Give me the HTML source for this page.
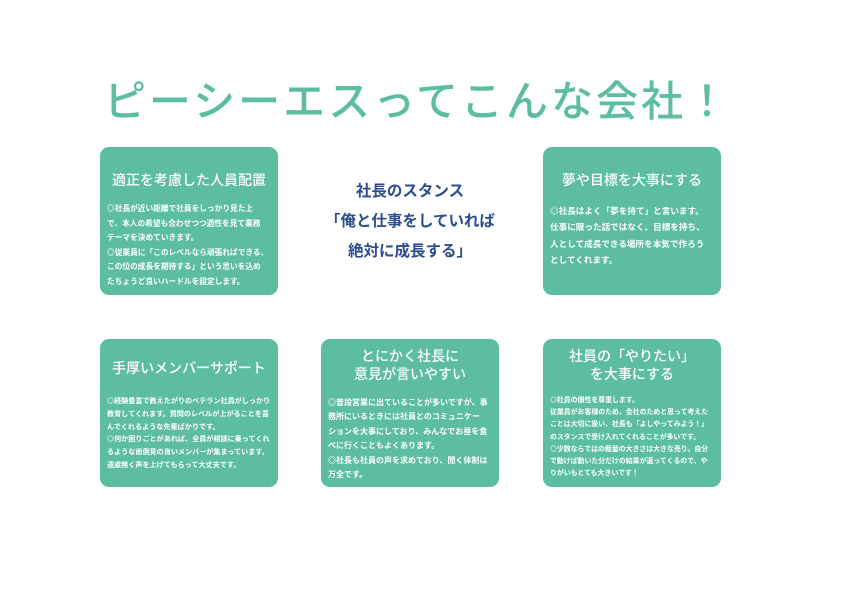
<!DOCTYPE html>
<html><head><meta charset="utf-8"><style>
body{margin:0;width:842px;height:595px;background:#fff;position:relative;overflow:hidden;font-family:"Liberation Sans","Noto Sans CJK JP",sans-serif}
.h{position:absolute;left:104px;top:68px;font-size:42px;color:#5dbda3;letter-spacing:3px;white-space:nowrap;font-weight:500}
.b{position:absolute;width:178px;height:148px;background:#5dbda1;border-radius:9px;color:#fff}
.t{position:absolute;left:0;width:100%;text-align:center;font-size:14px;line-height:18px;font-weight:500}
.p{position:absolute;left:7px;right:2px;font-weight:bold;white-space:nowrap}
.c{position:absolute;left:300px;width:220px;text-align:center;color:#2d4d91;font-size:15.5px;font-weight:bold}
</style></head><body>
<div class="h">ピーシーエスってこんな会社！</div>

<div class="b" style="left:100px;top:147px">
<div class="t" style="top:24px">適正を考慮した人員配置</div>
<div class="p" style="top:55px;line-height:14.6px;font-size:7.7px">◎社長が近い距離で社員をしっかり見た上<br>で、本人の希望も合わせつつ適性を見て業務<br>テーマを決めていきます。<br>◎従業員に「このレベルなら頑張ればできる、<br>この位の成長を期待する」という思いを込め<br>たちょうど良いハードルを設定します。</div>
</div>

<div class="c" style="top:177px;line-height:30px">社長のスタンス<br>「俺と仕事をしていれば<br>絶対に成長する」</div>

<div class="b" style="left:543px;top:147px">
<div class="t" style="top:24px">夢や目標を大事にする</div>
<div class="p" style="top:56px;line-height:16.3px;font-size:8.6px">◎社長はよく「夢を持て」と言います。<br>仕事に限った話ではなく、目標を持ち、<br>人として成長できる場所を本気で作ろう<br>としてくれます。</div>
</div>

<div class="b" style="left:100px;top:339px">
<div class="t" style="top:20px">手厚いメンバーサポート</div>
<div class="p" style="top:56px;line-height:12.8px;font-size:7.1px">◎経験豊富で教えたがりのベテラン社員がしっかり<br>教育してくれます。質問のレベルが上がることを喜<br>んでくれるような先輩ばかりです。<br>◎何か困りごとがあれば、全員が相談に乗ってくれ<br>るような面倒見の良いメンバーが集まっています。<br>遠慮無く声を上げてもらって大丈夫です。</div>
</div>

<div class="b" style="left:321px;top:339px">
<div class="t" style="top:8px">とにかく社長に<br>意見が言いやすい</div>
<div class="p" style="top:57px;line-height:14.4px;font-size:8px">◎普段営業に出ていることが多いですが、事<br>務所にいるときには社員とのコミュニケー<br>ションを大事にしており、みんなでお昼を食<br>べに行くこともよくあります。<br>◎社長も社員の声を求めており、聞く体制は<br>万全です。</div>
</div>

<div class="b" style="left:543px;top:339px">
<div class="t" style="top:8px">社員の「やりたい」<br>を大事にする</div>
<div class="p" style="top:56px;line-height:12.2px;font-size:6.9px">◎社員の個性を尊重します。<br>従業員がお客様のため、会社のためと思って考えた<br>ことは大切に扱い、社長も「よしやってみよう！」<br>のスタンスで受け入れてくれることが多いです。<br>◎少数ならではの裁量の大きさは大きな売り。自分<br>で動けば動いた分だけの結果が返ってくるので、や<br>りがいもとても大きいです！</div>
</div>
</body></html>
